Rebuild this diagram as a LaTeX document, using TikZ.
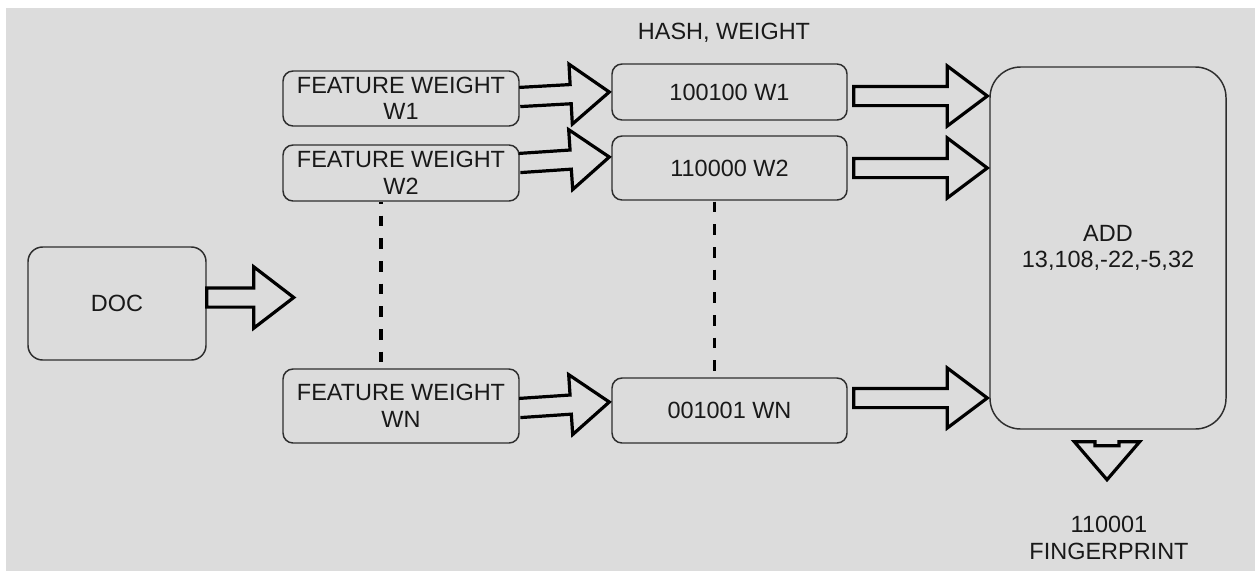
\documentclass[tikz,border=0pt]{standalone}
\usepackage{fontspec}
\setmainfont{Liberation Sans}
\usetikzlibrary{calc}
\definecolor{canvas}{RGB}{220,220,220}
\definecolor{edge}{RGB}{45,45,45}
\definecolor{ink}{RGB}{25,25,25}
% Hollow block arrow from #1 to the tip #2:
% #3 shaft half-width, #4 head half-width, #5 head length, #6 closing segment
\newcommand\fatarrow[6]{%
  \draw[bigarrow] ($(#1)!#3!90:(#2)$)
    -- ($(#2)!#5!(#1)!#3!90:(#2)$)
    -- ($(#2)!#5!(#1)!#4!90:(#2)$)
    -- (#2)
    -- ($(#2)!#5!(#1)!#4!-90:(#2)$)
    -- ($(#2)!#5!(#1)!#3!-90:(#2)$)
    -- ($(#1)!#3!-90:(#2)$) #6;}
\tikzset{
  box/.style n args={3}{draw=edge, line width=1.1pt, rounded corners=#3,
    minimum width=#1*0.75pt, minimum height=#2*0.75pt, inner sep=0pt,
    text=ink, align=center, font=\fontsize{17.6}{19.8}\selectfont},
  label text/.style={text=ink, align=center, inner sep=0pt,
    font=\fontsize{17.6}{19.8}\selectfont},
  bigarrow/.style={draw=black, line width=2.4pt, line join=miter},
  gap line/.style={draw=black, line width=2.6pt, dash pattern=on 8pt off 9pt}
}
\begin{document}
\begin{tikzpicture}[x=0.75pt, y=-0.75pt]
  \useasboundingbox (0,0) rectangle (1255,571);
  \fill[white] (0,0) rectangle (1255,571);
  \fill[canvas] (6,8) rectangle (1255,571);

  % boxes
  \node[box={178}{113}{11pt}] (doc) at (117,303.5) {DOC};
  \node[box={236}{55}{7.5pt}] (fw1) at (401,98.5) {FEATURE WEIGHT\\W1};
  \node[box={236}{56}{7.5pt}] (fw2) at (401,173) {FEATURE WEIGHT\\W2};
  \node[box={236}{74}{7.5pt}] (fwn) at (401,406) {FEATURE WEIGHT\\WN};
  \node[box={235}{56}{7.5pt}] (h1) at (729.5,92) {100100 W1};
  \node[box={235}{64}{7.5pt}] (h2) at (729.5,168) {110000 W2};
  \node[box={235}{65}{7.5pt}] (hn) at (729.5,410.5) {001001 WN};
  \node[box={236}{362}{23pt}] (add) at (1108,248) {ADD\\13,108,-22,-5,32};

  \node[label text] (hashlbl) at (724,33) {HASH, WEIGHT};
  \node[label text] (fplbl) at (1109,538) {110001\\FINGERPRINT};

  % arrow end points
  \coordinate (ds) at ($(doc.east)+(0,-6)$);
  \coordinate (dt) at ($(doc.east)+(87,-6)$);
  \coordinate (s1) at ($(fw1.east)+(0,-1.5)$);
  \coordinate (t1) at ($(h1.west)+(-2,0)$);
  \coordinate (s2) at ($(fw2.east)+(0,-10)$);
  \coordinate (t2) at ($(h2.west)+(-2,-11)$);
  \coordinate (sn) at ($(fwn.east)+(0,2)$);
  \coordinate (tn) at ($(hn.west)+(-2,-8.5)$);
  \coordinate (u1) at ($(h1.east)+(6,4)$);
  \coordinate (v1) at ($(add.west |- u1)+(-2,0)$);
  \coordinate (u2) at ($(h2.east)+(6,0)$);
  \coordinate (v2) at ($(add.west |- u2)+(-2,0)$);
  \coordinate (u3) at ($(hn.east)+(6,-12.5)$);
  \coordinate (v3) at ($(add.west |- u3)+(-2,0)$);
  \coordinate (fs) at ($(add.south)+(-1,16)$);
  \coordinate (ft) at ($(add.south)+(-1,50)$);

  % block arrows
  \fatarrow{ds}{dt}{7.2pt}{23pt}{30pt}{-- cycle}
  \fatarrow{s1}{t1}{7.2pt}{22.5pt}{29pt}{}
  \fatarrow{s2}{t2}{7.2pt}{22.5pt}{29pt}{}
  \fatarrow{sn}{tn}{7.2pt}{22.5pt}{29pt}{}
  \fatarrow{u1}{v1}{7.2pt}{22.5pt}{30pt}{-- cycle}
  \fatarrow{u2}{v2}{7.2pt}{22.5pt}{30pt}{-- cycle}
  \fatarrow{u3}{v3}{7.2pt}{22.5pt}{30pt}{-- cycle}
  \fatarrow{fs}{ft}{9pt}{24.5pt}{28.5pt}{-- cycle}

  % elided rows
  \draw[gap line, dash phase=6.5pt] ($(fw2.south)+(-20,0)$) -- ($(fwn.north)+(-20,0)$);
  \draw[gap line] ($(h2.south)+(-15,1)$) -- ($(hn.north)+(-15,-6)$);
\end{tikzpicture}
\end{document}
